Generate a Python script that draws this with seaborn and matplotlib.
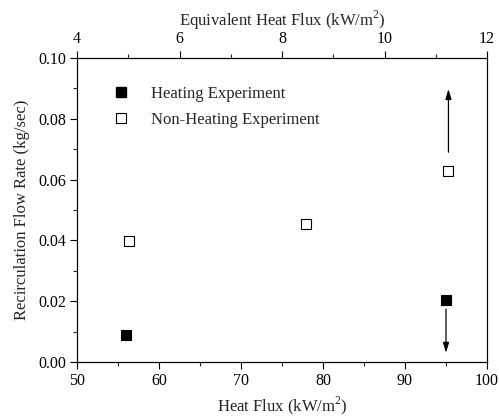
import matplotlib
matplotlib.use("Agg")
import matplotlib.pyplot as plt
import seaborn as sns
import pandas as pd
from matplotlib.ticker import MultipleLocator, FormatStrFormatter
from matplotlib.lines import Line2D

sns.set_theme(style="ticks")
plt.rcParams['font.family'] = ['Liberation Serif', 'DejaVu Serif']
plt.rcParams['mathtext.fontset'] = 'custom'
plt.rcParams['mathtext.rm'] = 'Liberation Serif'

heat_x = [56.0, 95.0]
heat_y = [0.0088, 0.0205]
nonheat_x = [56.3, 77.9, 95.3]
nonheat_y = [0.0399, 0.0455, 0.0627]
series = ["Heating Experiment", "Non-Heating Experiment"]
equiv_range = [4, 12]

df = pd.DataFrame({
    "x": heat_x + nonheat_x,
    "y": heat_y + nonheat_y,
    "s": [series[0]] * len(heat_x) + [series[1]] * len(nonheat_x),
})

fig = plt.figure(figsize=(4.99, 4.16), dpi=100)
ax = fig.add_axes([77/499, 1 - 362/416, 410/499, 304/416])

sns.scatterplot(data=df[df.s == series[0]], x="x", y="y", marker="s", s=55,
                color="black", edgecolor="black", linewidth=0.8, ax=ax, legend=False)
sns.scatterplot(data=df[df.s == series[1]], x="x", y="y", marker="s", s=45,
                facecolor="white", edgecolor="black", linewidth=0.8, ax=ax, legend=False)

# arrows
aprops = dict(arrowstyle="-|>,head_length=0.6,head_width=0.18", color="black", lw=0.9,
              mutation_scale=10, shrinkA=0, shrinkB=0)
ax.annotate("", xy=(95.3, 0.0898), xytext=(95.3, 0.0690), arrowprops=aprops)
ax.annotate("", xy=(95.0, 0.0030), xytext=(95.0, 0.0174), arrowprops=aprops)

ax.set_xlim(50, 100)
ax.set_ylim(0, 0.10)
ax.xaxis.set_major_locator(MultipleLocator(10))
ax.xaxis.set_minor_locator(MultipleLocator(5))
ax.yaxis.set_major_locator(MultipleLocator(0.02))
ax.yaxis.set_minor_locator(MultipleLocator(0.01))
ax.yaxis.set_major_formatter(FormatStrFormatter('%.2f'))
ax.tick_params(which="major", direction="out", length=5, width=0.8, labelsize=11.5,
               colors="black", right=False, top=False, pad=3)
ax.tick_params(which="minor", direction="out", length=3, width=0.8, right=False, top=False)
for sp in ax.spines.values():
    sp.set_color("black")
    sp.set_linewidth(0.8)

ax.set_xlabel("Heat Flux (kW/m$^2$)", fontsize=12, labelpad=4)
ax.set_ylabel("Recirculation Flow Rate (kg/sec)", fontsize=12, labelpad=6)

top = ax.twiny()
top.set_xlim(*equiv_range)
top.xaxis.set_major_locator(MultipleLocator(2))
top.xaxis.set_minor_locator(MultipleLocator(1))
top.tick_params(which="major", direction="out", length=5, width=0.8, labelsize=11.5,
                colors="black", pad=3)
top.tick_params(which="minor", direction="out", length=3, width=0.8)
top.set_xlabel("Equivalent Heat Flux (kW/m$^2$)", fontsize=12, labelpad=4)
for sp in top.spines.values():
    sp.set_color("black")
    sp.set_linewidth(0.8)

# legend
handles = [
    Line2D([], [], marker="s", linestyle="none", markersize=7, markerfacecolor="black",
           markeredgecolor="black"),
    Line2D([], [], marker="s", linestyle="none", markersize=6.5, markerfacecolor="white",
           markeredgecolor="black", markeredgewidth=0.8),
]
ax.legend(handles, series, loc="upper left", bbox_to_anchor=(0.05, 0.93), frameon=False,
          fontsize=12, handletextpad=0.8, labelspacing=0.6, borderaxespad=0)

fig.savefig("out.png", dpi=100)
